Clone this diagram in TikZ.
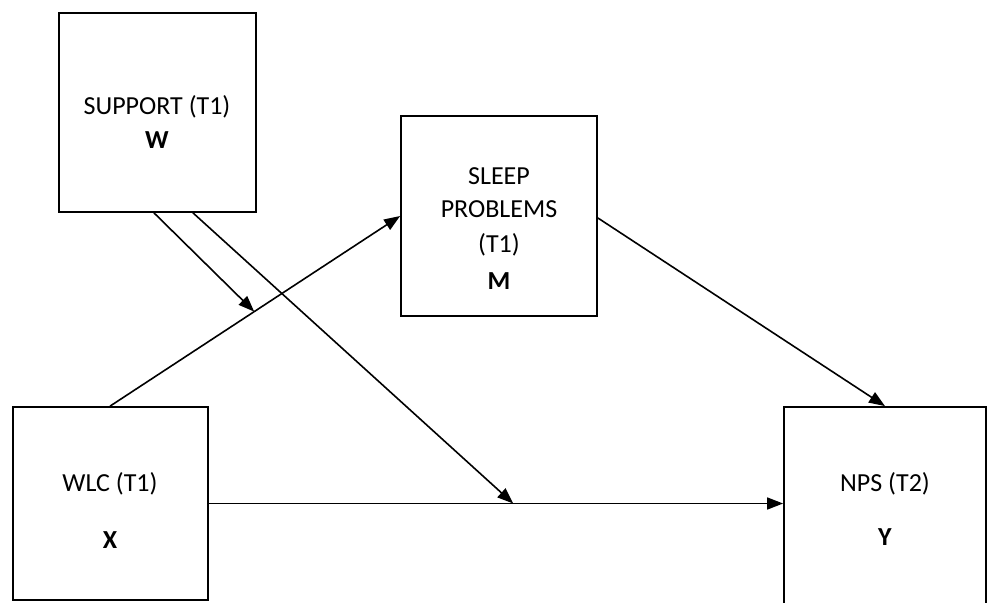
\documentclass[tikz,border=0pt]{standalone}
\usepackage{fontspec}
\setmainfont{Carlito}
\usetikzlibrary{arrows.meta,calc}
\begin{document}
\begin{tikzpicture}[x=1pt,y=-1pt,
  box/.style={draw=black,line width=1.8pt,minimum width=#1,inner sep=0pt},
  lbl/.style={font=\fontsize{26}{31}\selectfont,inner sep=0pt,align=center},
  conn/.style={line width=1.6pt,-{Triangle[length=16pt,width=12pt]}}]
\path[use as bounding box] (0,0) rectangle (987,602);
\clip (0,0) rectangle (987,602);
% boxes
\node[box=197pt,minimum height=199pt] (support) at (157.5,112.5) {};
\node[box=196pt,minimum height=200pt] (sleep) at (499,216) {};
\node[box=195pt,minimum height=193pt] (wlc) at (110.5,503.5) {};
\node[box=202pt,minimum height=214pt] (nps) at (885,514) {};
% labels
\node[lbl] (tS) at (157,107) {SUPPORT (T1)};
\node[lbl] (tW) at (157,140) {\textbf{W}};
\node[lbl] (tM1) at (499,176) {SLEEP};
\node[lbl] (tM2) at (499,209) {PROBLEMS};
\node[lbl] (tM3) at (499,245) {(T1)};
\node[lbl] (tM) at (499,281) {\textbf{M}};
\node[lbl] (tX1) at (110,484) {WLC (T1)};
\node[lbl] (tX) at (110,540) {\textbf{X}};
\node[lbl] (tY1) at (885,484) {NPS (T2)};
\node[lbl] (tY) at (885,537) {\textbf{Y}};
% connectors
\coordinate (a1) at ([xshift=98pt]wlc.north west);
\coordinate (yin) at (nps.west |- wlc.east);
\draw[conn] (a1) -- (sleep.west);
\draw[conn] ([yshift=-2pt]sleep.east) -- (nps.north);
\draw[conn] (wlc.east) -- (yin);
\coordinate (m1) at ($(a1)!0.497!(sleep.west)$);
\coordinate (m2) at ($(wlc.east)!0.53!(yin)$);
\coordinate (s1) at ([xshift=-3.5pt]support.south);
\coordinate (s2) at ([xshift=35.5pt]support.south);
\draw[conn] (s1) -- (m1);
\draw[conn] (s2) -- (m2);
\end{tikzpicture}
\end{document}
